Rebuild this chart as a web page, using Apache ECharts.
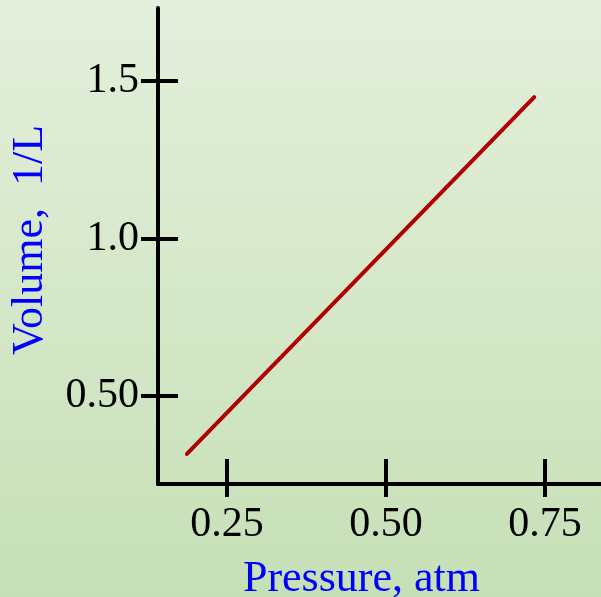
<!DOCTYPE html>
<html><head><meta charset="utf-8">
<script src="https://cdn.jsdelivr.net/npm/echarts@6/dist/echarts.min.js"></script>
<style>html,body{margin:0;padding:0;}#c{width:601px;height:597px;}</style>
</head><body><div id="c"></div>
<script>
// Data
const pressure = [0.187, 0.733];
const volumeInv = [0.316, 1.449];
const xTicks = [0.25, 0.50, 0.75];
const xTickLabels = ['0.25', '0.50', '0.75'];
const yTicks = [0.50, 1.0, 1.5];
const yTickLabels = ['0.50', '1.0', '1.5'];
const xTitle = 'Pressure, atm';
const yTitle = 'Volume,  1/L';

const xMin = 0.1415, xMax = 0.838, yMin = 0.2206, yMax = 1.732;
const font = 'Liberation Serif';
const lab = (vals, labels) => v => { const i = vals.findIndex(t => Math.abs(t - v) < 1e-6); return i >= 0 ? labels[i] : ''; };

const chart = echarts.init(document.getElementById('c'));
chart.setOption({
  backgroundColor: {type: 'linear', x: 0, y: 0, x2: 0, y2: 1,
    colorStops: [{offset: 0, color: '#e4efdc'}, {offset: 1, color: '#c6e0b6'}]},
  animation: false,
  grid: {left: 158, top: 8, right: 0, bottom: 113, containLabel: false, outerBoundsMode: 'none'},
  xAxis: [{
    type: 'value', min: xMin, max: xMax, position: 'bottom',
    name: xTitle, nameLocation: 'middle', nameGap: 73,
    nameTextStyle: {color: '#0000ff', fontFamily: font, fontSize: 44, padding: [0, 36, 0, 0]},
    axisLine: {show: true, lineStyle: {color: '#000', width: 4}},
    axisTick: {show: true, customValues: xTicks, length: 13, inside: false, lineStyle: {color: '#000', width: 4}},
    axisLabel: {show: true, customValues: xTicks, formatter: lab(xTicks, xTickLabels), margin: 20,
      color: '#000', fontFamily: font, fontSize: 42},
    splitLine: {show: false}
  }, {
    type: 'value', min: xMin, max: xMax, position: 'bottom',
    axisLine: {show: false},
    axisTick: {show: true, customValues: xTicks, length: 25, inside: true, lineStyle: {color: '#000', width: 4}},
    axisLabel: {show: false}, splitLine: {show: false}
  }],
  yAxis: [{
    type: 'value', min: yMin, max: yMax, position: 'left',
    name: yTitle, nameLocation: 'middle', nameGap: 106,
    nameTextStyle: {color: '#0000ff', fontFamily: font, fontSize: 44, padding: [0, 0, 0, 12]},
    axisLine: {show: true, lineStyle: {color: '#000', width: 4}},
    axisTick: {show: true, customValues: yTicks, length: 17, inside: false, lineStyle: {color: '#000', width: 4}},
    axisLabel: {show: true, customValues: yTicks, formatter: lab(yTicks, yTickLabels), margin: 19,
      color: '#000', fontFamily: font, fontSize: 42},
    splitLine: {show: false}
  }, {
    type: 'value', min: yMin, max: yMax, position: 'left',
    axisLine: {show: false},
    axisTick: {show: true, customValues: yTicks, length: 20, inside: true, lineStyle: {color: '#000', width: 4}},
    axisLabel: {show: false}, splitLine: {show: false}
  }],
  series: [{
    type: 'line', xAxisIndex: 0, yAxisIndex: 0,
    data: pressure.map((p, i) => [p, volumeInv[i]]),
    showSymbol: false, symbol: 'none',
    lineStyle: {color: '#b00000', width: 4, cap: 'round'}
  }]
});
</script>
</body></html>
